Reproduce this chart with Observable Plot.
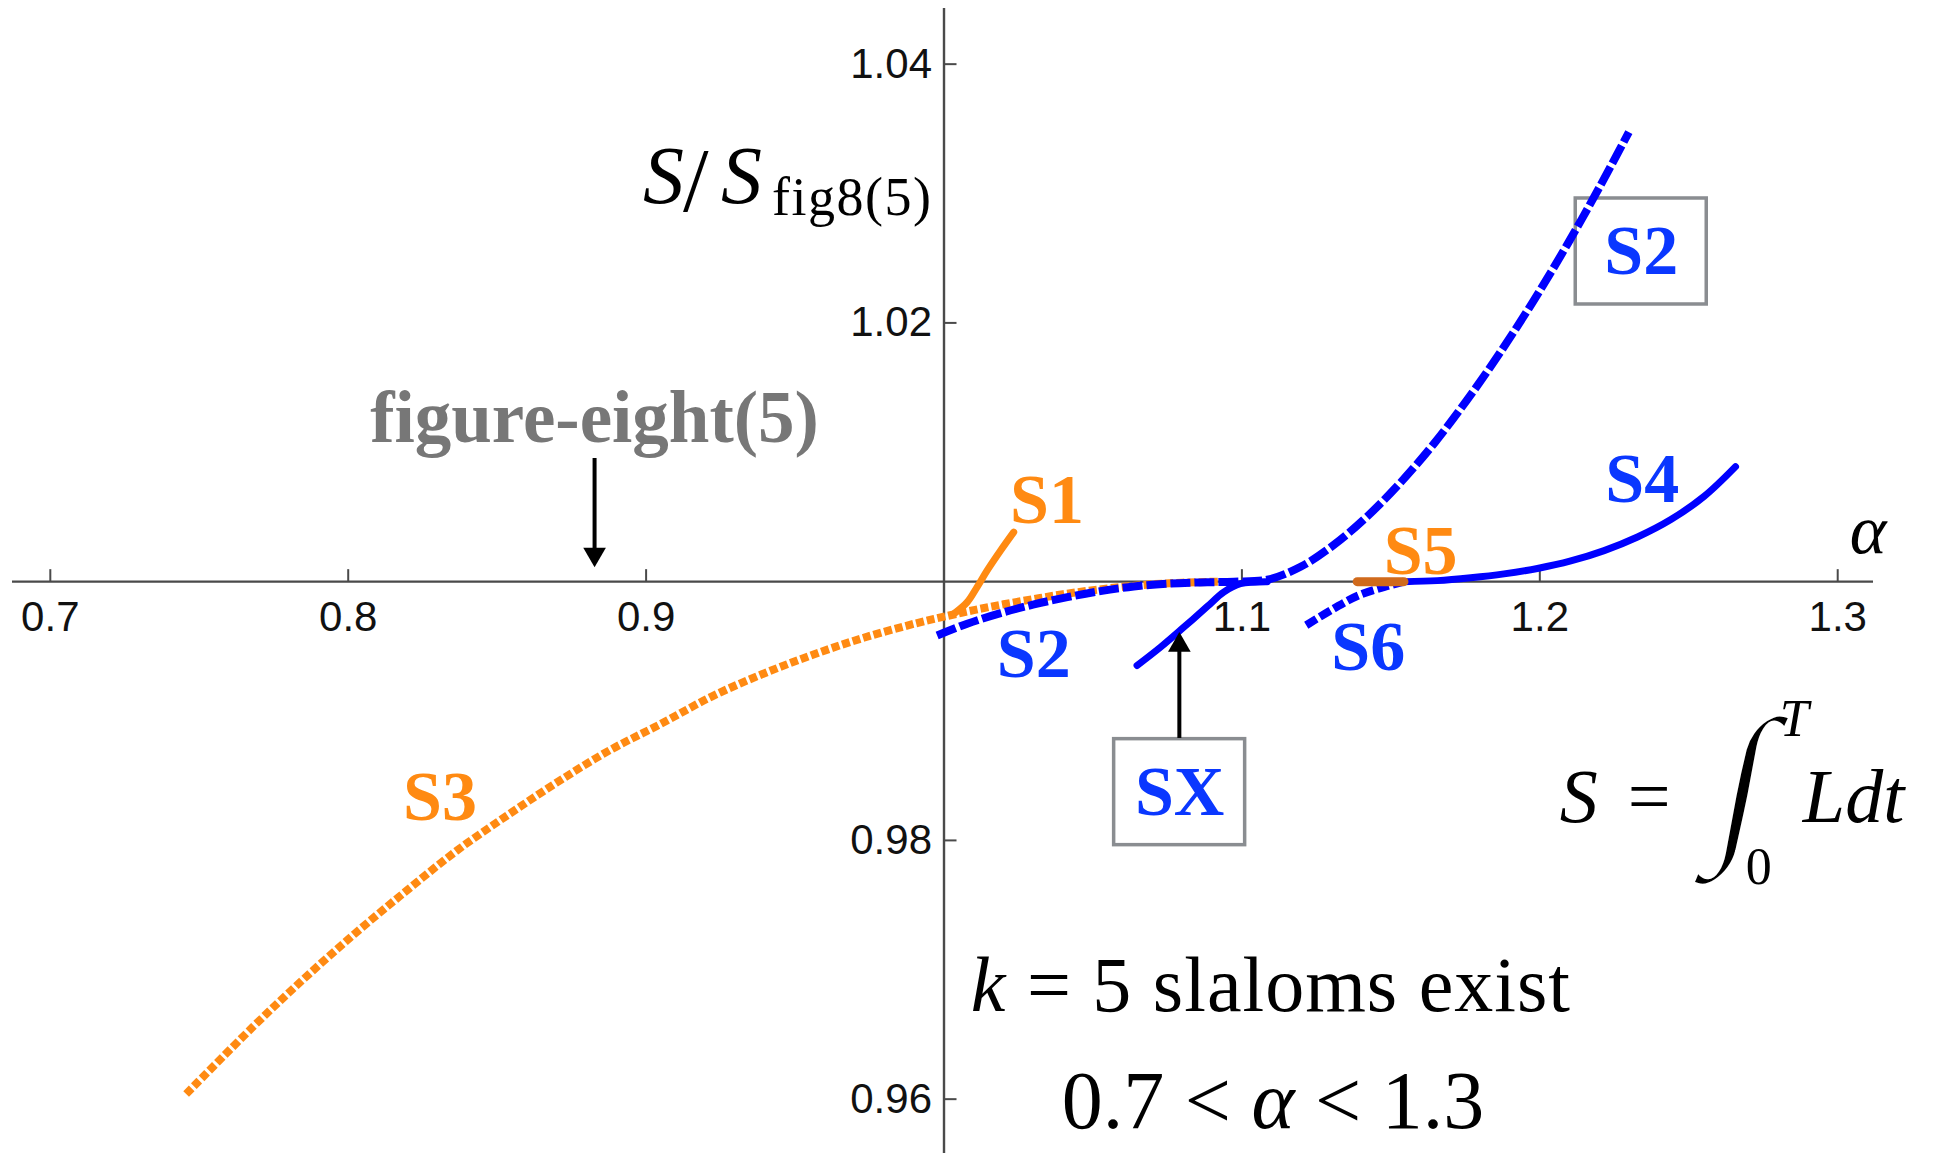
<!DOCTYPE html>
<html><head><meta charset="utf-8">
<script src="https://cdn.jsdelivr.net/npm/d3@7"></script>
<script src="https://cdn.jsdelivr.net/npm/@observablehq/plot@0.6"></script>
<style>
html,body{margin:0;padding:0;background:#fff;}
#chart svg{display:block;}
</style></head><body><div id="chart"></div>
<script>
// ---------- data ----------
const xTickValues = [0.7, 0.8, 0.9, 1.1, 1.2, 1.3];
const xTickLabels = ["0.7", "0.8", "0.9", "1.1", "1.2", "1.3"];
const yTickValues = [0.96, 0.98, 1.02, 1.04];
const yTickLabels = ["0.96", "0.98", "1.02", "1.04"];

// [alpha, S/S_fig8(5)]
const S3 = [[0.7456,0.9604],[0.7679,0.96556],[0.7850,0.96928],[0.8021,0.97277],[0.8192,0.97604],[0.8364,0.9792],[0.8535,0.98195],[0.8706,0.98456],[0.8877,0.98696],[0.9049,0.9890],[0.9220,0.99112],[0.9391,0.99286],[0.9562,0.99437],[0.9733,0.99568],[0.9904,0.99677],[1.0000,0.99729],[1.0100,0.9978],[1.0200,0.99825],[1.0300,0.99865],[1.0400,0.99903],[1.0500,0.99934],[1.0600,0.9996],[1.0700,0.9998],[1.0800,0.99992],[1.0920,1.0000]];
const S2 = [[0.9977,0.99584],[1.0078,0.99675],[1.0190,0.99757],[1.0302,0.99824],[1.0414,0.9988],[1.0525,0.99927],[1.0637,0.99963],[1.0749,0.99984],[1.0861,0.99994],[1.0973,1.0000],[1.1085,1.00015],[1.1197,1.00115],[1.1309,1.00285],[1.1421,1.00505],[1.1532,1.00765],[1.1644,1.01065],[1.1756,1.01405],[1.1868,1.01775],[1.1980,1.02175],[1.2092,1.02605],[1.2204,1.03065],[1.2299,1.03475]];
const S1 = [[1.0035,0.99755],[1.0078,0.99842],[1.0111,0.99958],[1.0145,1.00087],[1.0190,1.00241],[1.0234,1.00383]];
const SX = [[1.0648,0.99352],[1.0727,0.99494],[1.0805,0.99648],[1.0884,0.99808],[1.0939,0.99919],[1.0995,0.99984],[1.1085,1.0000]];
const S6 = [[1.1216,0.99663],[1.1309,0.99793],[1.1387,0.99889],[1.1476,0.99958],[1.1544,1.0000]];
const S5 = [[1.1387,1.0000],[1.1544,1.0000]];
const S4 = [[1.1544,1.0000],[1.1656,1.00008],[1.1768,1.0003],[1.1880,1.0006],[1.1992,1.00102],[1.2104,1.0016],[1.2216,1.0024],[1.2328,1.00345],[1.2440,1.0048],[1.2552,1.0066],[1.2657,1.00889]];

// curve labels (anchor = text centre, baseline)
const labelNames = ["S1", "S2", "S3", "S4", "S5", "S6"];
const labelAlpha = [1.0346, 1.0301, 0.8308, 1.2344, 1.1600, 1.1424];
const labelS     = [1.0045, 0.99262, 0.98154, 1.00612, 1.00056, 0.99314];
const orangeNames = ["S1", "S3", "S5"];

// boxed labels (box centre)
const boxedNames = ["S2", "SX"];
const boxedAlpha = [1.23405, 1.0791];
const boxedS     = [1.02552, 0.98373];

// arrows
const arrowAlpha = [0.8827, 1.0790];
const arrowFrom  = [1.00952, 0.98788];
const arrowTo    = [1.00112, 0.99610];

// text annotations
const figEightText = "figure-eight(5)";
const figEightAt = [0.88268, 1.01078];

// ---------- layout ----------
const W = 1939, H = 1153;
const xDomain = [0.68328, 1.33417];
const yDomain = [0.95580, 1.04492];
const pxX = (xDomain[1] - xDomain[0]) / W;
const pxY = (yDomain[1] - yDomain[0]) / H;

const ORANGE = "#ff8a12", BLUE = "#0000ff", LBLUE = "#0a37ff", AXIS = "#4a4a4a", BOX = "#8a8d91";
const SERIF = "'Liberation Serif', 'Times New Roman', serif";
const SANS = "'Liberation Sans', Arial, sans-serif";

const curve = (data, stroke, width, dash) => Plot.line(data, {
  x: d => d[0], y: d => d[1], stroke, strokeWidth: width,
  strokeDasharray: dash, curve: "catmull-rom",
  strokeLinecap: dash ? "butt" : "round"
});

const labels = labelNames.map((n, i) => ({n, a: labelAlpha[i], s: labelS[i]}));
const boxed = boxedNames.map((n, i) => ({n, a: boxedAlpha[i], s: boxedS[i]}));
const arrows = arrowAlpha.map((a, i) => ({a, from: arrowFrom[i], to: arrowTo[i]}));

const chart = Plot.plot({
  width: W, height: H, margin: 0,
  x: {domain: xDomain, axis: null},
  y: {domain: yDomain, axis: null},
  style: {background: "#fff", overflow: "visible"},
  marks: [
    // boxes
    Plot.rect(boxed, {x1: d => d.a - 65.5 * pxX, x2: d => d.a + 65.5 * pxX,
      y1: d => d.s - 53 * pxY, y2: d => d.s + 53 * pxY,
      fill: "none", stroke: BOX, strokeWidth: 3.5}),
    // axes
    Plot.ruleY([1], {x1: xDomain[0] + 12 * pxX, x2: xDomain[1] - 66 * pxX, stroke: AXIS, strokeWidth: 2.4}),
    Plot.ruleX([1], {y1: yDomain[0], y2: yDomain[1] - 8 * pxY, stroke: AXIS, strokeWidth: 2.4}),
    Plot.ruleX(xTickValues, {x: d => d, y1: 1, y2: 1 + 12 * pxY, stroke: AXIS, strokeWidth: 2}),
    Plot.ruleY(yTickValues, {y: d => d, x1: 1, x2: 1 + 13 * pxX, stroke: AXIS, strokeWidth: 2}),
    Plot.text(xTickValues, {x: d => d, y: 1, text: (d, i) => xTickLabels[i], dy: 20, lineAnchor: "top",
      fontSize: 42, fontFamily: SANS, fill: "#111"}),
    Plot.text(yTickValues, {x: 1, y: d => d, text: (d, i) => yTickLabels[i], dx: -12, textAnchor: "end",
      fontSize: 42, fontFamily: SANS, fill: "#111"}),
    // curves
    curve(S3, ORANGE, 8, "8,3"),
    curve(S2, BLUE, 8, "20,4"),
    curve(S1, ORANGE, 7),
    curve(SX, BLUE, 7),
    curve(S6, BLUE, 8, "12,4"),
    curve(S4, BLUE, 7),
    curve(S5, "#d06a1c", 9),
    // arrows
    Plot.ruleX(arrows, {x: "a", y1: "from", y2: d => d.to + Math.sign(d.from - d.to) * 17 * pxY, stroke: "#000", strokeWidth: 4}),
    Plot.dot(arrows, {x: "a", y: d => d.to + Math.sign(d.from - d.to) * 13 * pxY, symbol: "triangle", r: 8.4,
      fill: "#000", stroke: "none", rotate: d => d.from > d.to ? 180 : 0}),
    // labels
    Plot.text(labels, {x: "a", y: "s", text: "n", lineAnchor: "bottom",
      fill: d => orangeNames.includes(d.n) ? ORANGE : LBLUE,
      fontSize: 70, fontWeight: "bold", fontFamily: SERIF}),
    Plot.text(boxed, {x: "a", y: "s", text: "n", lineAnchor: "middle", fill: LBLUE,
      fontSize: 70, fontWeight: "bold", fontFamily: SERIF}),
    Plot.text([figEightText], {x: figEightAt[0], y: figEightAt[1], text: d => d, lineAnchor: "bottom",
      fill: "#777", fontSize: 73, fontWeight: "bold", fontFamily: SERIF})
  ]
});
document.getElementById("chart").appendChild(chart);

// ---------- math-style annotations ----------
const svg = d3.select(chart);
const X = v => chart.scale("x").apply(v), Y = v => chart.scale("y").apply(v);
function put(x, y, parts, size, anchor, family) {
  const t = svg.append("text").attr("x", x).attr("y", y)
    .attr("font-family", family || SERIF).attr("font-size", size)
    .attr("text-anchor", anchor || "start").attr("fill", "#000");
  parts.forEach(p => {
    const s = t.append("tspan").text(p.t);
    if (p.i) s.attr("font-style", "italic");
  });
  return t;
}
// y-axis label S/S_fig8(5)
{
  const x0 = X(0.8991), y0 = Y(1.02946) + 3;
  put(x0, y0, [{t: "S", i: true}], 82);
  put(x0 + 40, y0 + 8, [{t: "/"}], 92);
  put(x0 + 78, y0, [{t: "S", i: true}], 82);
  put(x0 + 129, y0 + 12, [{t: "fig8(5)"}], 54).attr("letter-spacing", 1.5);
}
// alpha axis label
put(X(1.3104), Y(1.00218), [{t: "α", i: true}], 70, "middle");
// S = ∫_0^T L dt
{
  const x0 = X(1.2069), y0 = Y(0.98139);
  put(x0, y0, [{t: "S", i: true}], 76);
  put(x0 + 68, y0, [{t: "="}], 76);
  put(0, 0, [{t: "∫"}], 175, "middle")
    .attr("transform", `translate(${x0 + 174},${y0 + 17}) skewX(-11)`)
    .attr("stroke", "#fff").attr("stroke-width", 4.5);
  put(x0 + 220, y0 - 86, [{t: "T", i: true}], 52);
  put(x0 + 186, y0 + 62, [{t: "0"}], 52);
  put(x0 + 243, y0, [{t: "Ldt", i: true}], 76);
}
// k = 5 slaloms exist / 0.7 < α < 1.3
put(X(1.1099), Y(0.96677), [{t: "k", i: true}, {t: " = 5 slaloms exist"}], 78, "middle").attr("letter-spacing", 1);
put(X(1.1106), Y(0.95772), [{t: "0.7 < "}, {t: "α", i: true}, {t: " < 1.3"}], 82, "middle");
</script></body></html>
